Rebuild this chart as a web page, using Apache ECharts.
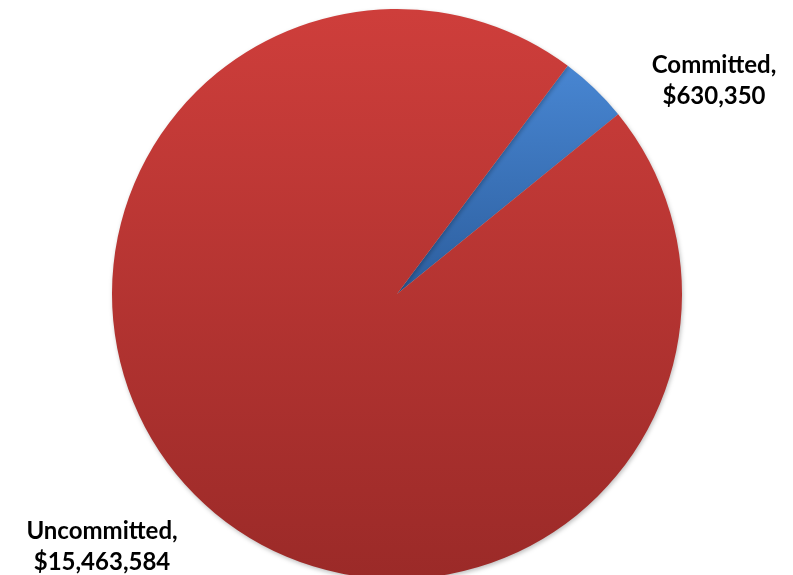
<!DOCTYPE html>
<html>
<head>
<meta charset="utf-8">
<script src="https://cdn.jsdelivr.net/npm/echarts@6/dist/echarts.min.js"></script>
<style>
  html, body { margin: 0; padding: 0; background: #fff; }
  #main { width: 793px; height: 575px; }
</style>
</head>
<body>
<div id="main"></div>
<script>
// slice names and amounts
var names = ['Committed', 'Uncommitted'];
var amounts = [630350, 15463584];
// top / bottom colour of each slice gradient
var topColors = ['#4886d2', '#ce3e3b'];
var bottomColors = ['#2c5e9e', '#9b2a28'];
// where each label sits
var labelPos = [[714, 81], [102, 547]];

var chart = echarts.init(document.getElementById('main'), null, { renderer: 'canvas' });

function money(v) {
  return '$' + v.toString().replace(/\B(?=(\d{3})+(?!\d))/g, ',');
}

var data = names.map(function (n, i) {
  return {
    name: n,
    value: amounts[i],
    itemStyle: {
      color: new echarts.graphic.LinearGradient(0, 0, 0, 1, [
        { offset: 0, color: topColors[i] },
        { offset: 1, color: bottomColors[i] }
      ])
    }
  };
});

var option = {
  animation: false,
  series: [
    {
      type: 'pie',
      center: [397, 294],
      radius: 285,
      startAngle: 53.2,
      clockwise: true,
      data: data,
      itemStyle: {
        borderWidth: 0,
        shadowBlur: 4,
        shadowOffsetX: 1,
        shadowOffsetY: 2,
        shadowColor: 'rgba(0,0,0,0.25)'
      },
      label: {
        show: true,
        position: 'outside',
        overflow: 'none',
        formatter: function (p) {
          return p.name + ',\n' + money(p.value);
        },
        fontFamily: 'Lato',
        fontWeight: 'bold',
        fontSize: 24,
        lineHeight: 31,
        color: '#000',
        align: 'center'
      },
      labelLine: { show: false },
      labelLayout: function (p) {
        return {
          x: labelPos[p.dataIndex][0],
          y: labelPos[p.dataIndex][1],
          align: 'center',
          verticalAlign: 'middle'
        };
      }
    }
  ]
};
chart.setOption(option);
</script>
</body>
</html>
